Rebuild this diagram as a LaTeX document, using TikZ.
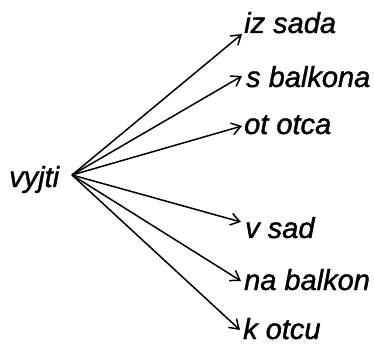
\documentclass[tikz,border=0pt]{standalone}
\usepackage{fontspec}
\setmainfont[ItalicFeatures={FakeBold=1.3}]{Liberation Sans}
\usetikzlibrary{arrows.meta}
\begin{document}
\begin{tikzpicture}[x=1pt,y=-1pt,
  word/.style={font=\fontsize{29}{32}\selectfont\itshape, inner sep=0pt, anchor=base west},
  link/.style={line width=1.5pt, -{Straight Barb[length=9pt,width=12pt,line width=1.5pt]}}]
  \useasboundingbox (0,0) rectangle (374,344);
  % source verb and the point where all arrows start
  \node[word] (src) at (9,187) {vyjti};
  \coordinate (hub) at (72,175);
  % targets
  \node[word] (t1) at (244,33) {iz sada};
  \node[word] (t2) at (246,87) {s balkona};
  \node[word] (t3) at (244,134) {ot otca};
  \node[word] (t4) at (245,238) {v sad};
  \node[word] (t5) at (244,290) {na balkon};
  \node[word] (t6) at (243,339) {k otcu};
  % tips of the arrows, just before each target
  \coordinate (e1) at (242,34);
  \coordinate (e2) at (242,76);
  \coordinate (e3) at (242,126);
  \coordinate (e4) at (241,222);
  \coordinate (e5) at (241,281);
  \coordinate (e6) at (240,330);
  \foreach \i in {1,...,6} \draw[link] (hub) -- (e\i);
\end{tikzpicture}
\end{document}
